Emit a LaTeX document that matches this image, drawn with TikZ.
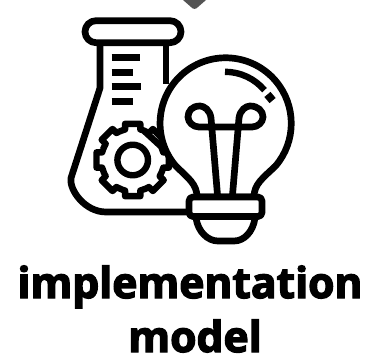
\documentclass[tikz,border=0pt]{standalone}
\usepackage{fontspec}
\newfontfamily\labfont[FakeBold=3.2]{Open Sans Bold}
\begin{document}
\begin{tikzpicture}[x=1pt,y=-1pt,
  icon/.style={draw=black,line width=6.7pt,line join=round},
  tick/.style={draw=black,line width=7pt},
  lab/.style={font=\labfont\fontsize{42.6}{42.6}\selectfont,text=black,inner sep=0pt,anchor=base}]
\useasboundingbox (0,0) rectangle (366,358);
% grey blob at the top
\fill[black!67] (183,0) -- (206,0) -- (198,7) .. controls (196,9.5) and (193,9.5) .. (191,7) -- cycle;
% flask
\draw[icon] (100,43) -- (100,88) -- (71,178) .. controls (69,190) and (85,212) .. (106,212) -- (192,212);
\draw[icon] (166,43) -- (166,84);
\draw[icon,fill=white] (96,20.7) -- (170,20.7) arc (-90:90:11) -- (96,42.7) arc (90:270:11) -- cycle;
\draw[tick] (111.5,57.5) -- (140,57.5);
\draw[tick] (111.5,72.5) -- (133,72.5);
\draw[tick] (111.5,87) -- (140.5,87);
\draw[tick] (111.5,101.7) -- (133,101.7);
% gear
\begin{scope}[shift={(132.7,160)}]
\draw[icon,line width=6.4pt]
  \foreach \a in {0,45,...,315}{
    {(\a-25:31.5) -- (\a-14:31.5) -- (\a-12:37) -- (\a+12:37) -- (\a+14:31.5) -- (\a+20:31.5)}
  } -- cycle;
\draw[icon,line width=6.4pt] (0,0) circle (15.3);
\end{scope}
% bulb
\draw[icon,fill=white] (197,197) .. controls (197,184) and (188,178) .. (175.7,165.9)
  arc (139.6:400.4:65.6) .. controls (263,178) and (254,184) .. (254,197) -- cycle;
\draw[icon] (196,218) .. controls (198,232) and (208,241) .. (218,241) -- (234,241) .. controls (244,241) and (253,232) .. (255,218);
\draw[icon,fill=white,rounded corners=4pt] (189,197) rectangle (262,216.5);
% filament
\draw[icon,line cap=butt] (217.5,195) -- (211,118) .. controls (210,110) and (204,106) .. (200,106)
  .. controls (192,106) and (188,111) .. (188,117) .. controls (188,122) and (193,127) .. (199,127)
  -- (252,127) .. controls (258,127) and (263,122) .. (263,117) .. controls (263,111) and (258,106) .. (250,106)
  .. controls (246,106) and (240,110) .. (239,118) -- (232.5,195);
% highlight
\draw[draw=black,line width=6.4pt] (225,71.8) arc (-90:-40:51.5);
\fill[black,rotate around={40:(270,97.5)}] (266,93.5) rectangle (274,101.5);
% text
\node[lab] (t1) at (190,298) {implementation};
\node[lab] (t2) at (195,352) {model};
\end{tikzpicture}
\end{document}
